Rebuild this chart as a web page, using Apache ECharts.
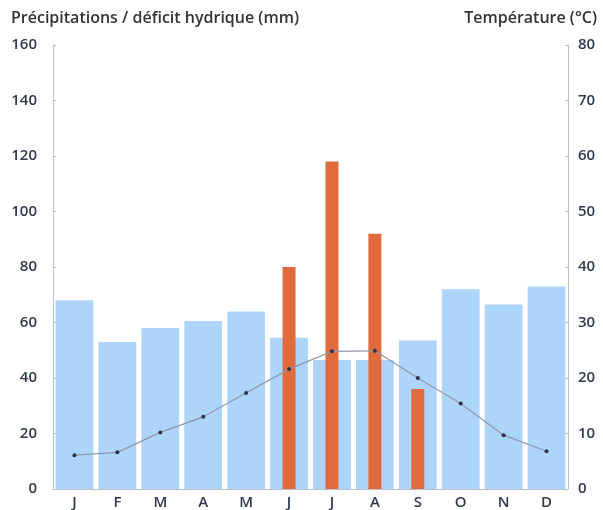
<!DOCTYPE html>
<html>
<head>
<meta charset="utf-8">
<script src="https://cdn.jsdelivr.net/npm/echarts@6/dist/echarts.min.js"></script>
<style>
  html, body { margin: 0; padding: 0; background: #fff; }
  #chart { width: 603px; height: 510px; }
</style>
</head>
<body>
<div id="chart"></div>
<script>
// months
const months = ['J', 'F', 'M', 'A', 'M', 'J', 'J', 'A', 'S', 'O', 'N', 'D']
// précipitations (mm)
const precipitations = [68, 53, 58, 60.5, 64, 54.5, 46.5, 46.5, 53.5, 72, 66.5, 73]
// déficit hydrique (mm), only in summer
const deficit = [null, null, null, null, null, 80, 118, 92, 36, null, null, null]
// température (°C)
const temperature = [6.1, 6.6, 10.2, 13, 17.3, 21.6, 24.8, 24.9, 20, 15.4, 9.7, 6.8]

const textColor = '#2f3a4f'
const axisColor = '#b9c0cc'
const font = 'Open Sans'

const chart = echarts.init(document.getElementById('chart'))

const option = {
  animation: false,
  title: [{
    text: 'Précipitations / déficit hydrique (mm)',
    left: 6,
    top: 5,
    textStyle: { fontFamily: font, fontSize: 16, fontWeight: 600, color: '#333' }
  }, {
    text: 'Température (°C)',
    right: 1,
    top: 5,
    textStyle: { fontFamily: font, fontSize: 16, fontWeight: 600, color: '#333' }
  }],
  grid: {
    top: 45,
    left: 53,
    right: 35,
    bottom: 20
  },
  xAxis: [{
    type: 'category',
    data: months,
    axisLine: { show: true, lineStyle: { color: axisColor } },
    axisTick: { show: false },
    axisLabel: {
      color: textColor, fontFamily: font, fontSize: 15, fontWeight: 600, margin: 6
    }
  }, {
    // hidden copy so the narrow bars stay centred on each month
    type: 'category',
    data: months,
    show: false,
    position: 'bottom'
  }],
  yAxis: [{
    type: 'value',
    min: 0,
    max: 160,
    interval: 20,
    splitLine: { show: false },
    axisLine: { show: true, lineStyle: { color: axisColor } },
    axisTick: { show: true, inside: true, length: 3, lineStyle: { color: axisColor } },
    axisLabel: {
      color: textColor, fontFamily: font, fontSize: 15, fontWeight: 600, margin: 16
    }
  }, {
    type: 'value',
    min: 0,
    max: 80,
    interval: 10,
    splitLine: { show: false },
    axisLine: { show: true, lineStyle: { color: axisColor } },
    axisTick: { show: true, inside: true, length: 3, lineStyle: { color: axisColor } },
    axisLabel: {
      color: textColor, fontFamily: font, fontSize: 15, fontWeight: 600, margin: 10
    }
  }],
  series: [{
    name: 'Précipitations',
    type: 'bar',
    xAxisIndex: 0,
    yAxisIndex: 0,
    data: precipitations,
    barCategoryGap: '12%',
    itemStyle: { color: '#add5fb' },
    z: 1
  }, {
    name: 'Déficit hydrique',
    type: 'bar',
    xAxisIndex: 1,
    yAxisIndex: 0,
    data: deficit,
    barWidth: 13,
    itemStyle: { color: '#e06b3c' },
    z: 2
  }, {
    name: 'Température',
    type: 'line',
    xAxisIndex: 0,
    yAxisIndex: 1,
    data: temperature,
    symbol: 'circle',
    symbolSize: 4,
    lineStyle: { color: '#8e98a6', width: 1.2 },
    itemStyle: { color: '#2b3445' },
    z: 3
  }]
}

chart.setOption(option)
</script>
</body>
</html>
